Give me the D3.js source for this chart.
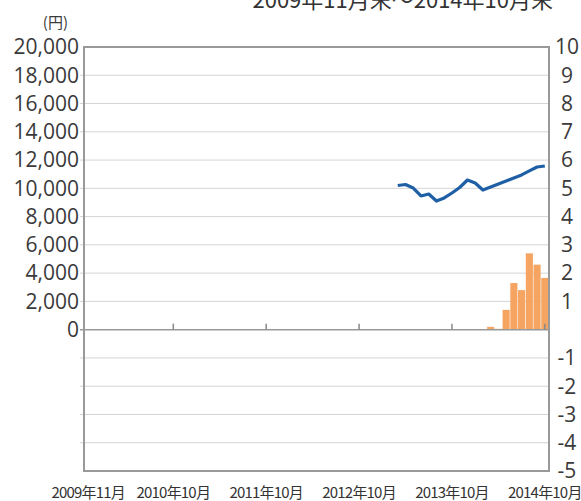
<!DOCTYPE html>
<html lang="ja">
<head>
<meta charset="UTF-8">
<title>基準価額と資金流出入</title>
<script src="https://d3js.org/d3.v7.min.js"></script>
<style>
  body { margin: 0; background: #fff; }
  svg { display: block; font-family: "Open Sans", "Noto Sans CJK JP", sans-serif; }
  .grid line { stroke: #d4d4d4; stroke-width: 1; }
  .tick-label { fill: #3a3a3a; font-size: 21px; }
  .x-label { fill: #333; font-size: 15px; font-family: "Noto Sans CJK JP", sans-serif; letter-spacing: -0.8px; }
</style>
</head>
<body>
<svg width="581" height="501"></svg>
<script>
// months on the x axis: 2009-11 .. 2014-10
const months = d3.timeMonth.range(new Date(2009, 10, 1), new Date(2014, 10, 1))
  .map(d3.timeFormat("%Y-%m"));

// left axis (円) tick labels, right axis tick labels (0 is not labelled)
const leftTicks = [0, 2000, 4000, 6000, 8000, 10000, 12000, 14000, 16000, 18000, 20000];
const rightTicks = [-5, -4, -3, -2, -1, 1, 2, 3, 4, 5, 6, 7, 8, 9, 10];

// x axis labels
const xLabelMonths = ["2009-11", "2010-10", "2011-10", "2012-10", "2013-10", "2014-10"];
const xLabels = ["2009年11月", "2010年10月", "2011年10月", "2012年10月", "2013年10月", "2014年10月"];
const xTickMonths = ["2010-10", "2011-10", "2012-10", "2013-10", "2014-10"];

// line series (left axis): 2013-03 .. 2014-10
const lineMonths = months.slice(40);
const lineValues = [10200, 10270, 10020, 9460, 9600, 9100, 9320, 9670, 10060, 10590,
                    10380, 9880, 10100, 10310, 10520, 10730, 10950, 11230, 11510, 11580];

// bar series (right axis): 2014-03 .. 2014-10
const barMonths = months.slice(52);
const barValues = [0.1, 0.03, 0.7, 1.65, 1.4, 2.7, 2.3, 1.83];

const svg = d3.select("svg");
const plotL = 84, plotR = 549, plotT = 47, plotB = 471;

const x = d3.scaleBand().domain(months).range([plotL, plotR]).padding(0.08);
const yL = d3.scaleLinear().domain([-10000, 20000]).range([plotB, plotT]);
const yR = d3.scaleLinear().domain([-5, 10]).range([plotB, plotT]);
const cx = m => x(m) + x.bandwidth() / 2;

// title (cut off at the top edge)
svg.append("text")
  .attr("x", 553).attr("y", 8)
  .attr("text-anchor", "end")
  .attr("fill", "#333")
  .style("font-size", "22px")
  .style("font-family", "'Noto Sans CJK JP', sans-serif")
  .text("2009年11月末～2014年10月末");

// unit
svg.append("text")
  .attr("x", 68).attr("y", 28)
  .attr("text-anchor", "end")
  .attr("fill", "#3a3a3a")
  .style("font-size", "15px")
  .style("font-family", "'Noto Sans CJK JP', sans-serif")
  .text("(円)");

// gridlines
svg.append("g").attr("class", "grid")
  .selectAll("line").data(yR.ticks(15).filter(d => d > -5 && d < 10 && d !== 0))
  .join("line")
  .attr("x1", plotL - 4).attr("x2", plotR)
  .attr("y1", d => yR(d)).attr("y2", d => yR(d));

// bars
svg.append("g").selectAll("rect").data(barValues)
  .join("rect")
  .attr("x", (d, i) => x(barMonths[i]))
  .attr("width", x.bandwidth())
  .attr("y", d => yR(d))
  .attr("height", d => yR(0) - yR(d))
  .attr("fill", "#f5a462");

// zero line
svg.append("line")
  .attr("x1", plotL - 4).attr("x2", plotR)
  .attr("y1", yR(0)).attr("y2", yR(0))
  .attr("stroke", "#999").attr("stroke-width", 1.5);

// x ticks on the zero line
svg.append("g").selectAll("line").data(xTickMonths)
  .join("line")
  .attr("x1", d => cx(d)).attr("x2", d => cx(d))
  .attr("y1", yR(0) - 6).attr("y2", yR(0))
  .attr("stroke", "#888").attr("stroke-width", 1.5);

// line
svg.append("path")
  .datum(lineValues)
  .attr("fill", "none")
  .attr("stroke", "#1f5fa6")
  .attr("stroke-width", 3.2)
  .attr("stroke-linejoin", "round")
  .attr("d", d3.line().x((d, i) => cx(lineMonths[i])).y(d => yL(d)));

// plot frame
svg.append("rect")
  .attr("x", plotL).attr("y", plotT)
  .attr("width", plotR - plotL).attr("height", plotB - plotT)
  .attr("fill", "none").attr("stroke", "#999").attr("stroke-width", 2);

// left axis labels
svg.append("g").selectAll("text").data(leftTicks)
  .join("text")
  .attr("class", "tick-label")
  .attr("x", 79).attr("y", d => yL(d))
  .attr("dy", "0.35em")
  .attr("text-anchor", "end")
  .text(d3.format(","));

// right axis labels
svg.append("g").selectAll("text").data(rightTicks)
  .join("text")
  .attr("class", "tick-label")
  .attr("x", 567).attr("y", d => yR(d))
  .attr("dy", "0.35em")
  .attr("text-anchor", "middle")
  .text(d => d);

// x labels
svg.append("g").selectAll("text").data(xLabelMonths)
  .join("text")
  .attr("class", "x-label")
  .attr("x", d => cx(d)).attr("y", 498)
  .attr("text-anchor", "middle")
  .text((d, i) => xLabels[i]);
</script>
</body>
</html>
